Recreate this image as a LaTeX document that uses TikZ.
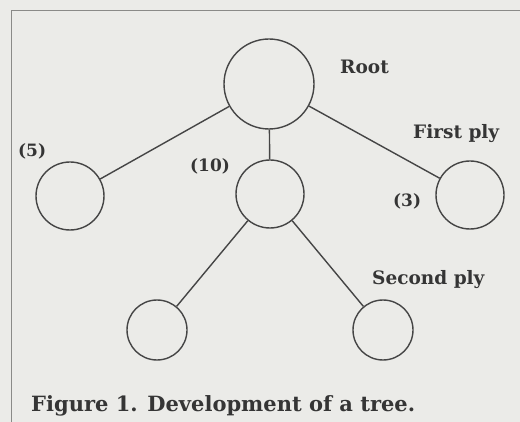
\documentclass[tikz,border=0pt]{standalone}
\usepackage{fontspec}
\setmainfont{DejaVu Serif}
\definecolor{bg}{HTML}{EBEBE8}
\definecolor{ink}{HTML}{454545}
\definecolor{txt}{HTML}{353535}
\definecolor{framec}{HTML}{8A8A88}
\begin{document}
\begin{tikzpicture}[x=1pt,y=-1pt,
  nd/.style={circle,draw=ink,line width=1.4pt,inner sep=0pt},
  big/.style={nd,minimum size=90pt},
  mid/.style={nd,minimum size=68pt},
  small/.style={nd,minimum size=60pt},
  edge/.style={draw=ink,line width=1.4pt},
  lbl/.style={text=txt,font=\fontsize{18.5}{20}\selectfont\bfseries,inner sep=0pt,anchor=base west},
  num/.style={text=txt,font=\fontsize{17}{19}\selectfont\bfseries,inner sep=0pt,anchor=base west},
  captxt/.style={text=txt,font=\fontsize{21}{23}\selectfont\bfseries,inner sep=0pt,anchor=base west}]
\fill[bg] (0,0) rectangle (520,422);
\useasboundingbox (0,0) rectangle (520,422);
\draw[framec,line width=1pt] (11,422) -- (11,11) -- (520,11);
\node[big] (root) at (269,84) {};
\node[mid] (l) at (70,196) {};
\node[mid] (m) at (270,194) {};
\node[mid] (r) at (470,195) {};
\node[small] (bl) at (157,330) {};
\node[small] (br) at (383,330) {};
\draw[edge] (root) -- (l);
\draw[edge] (root) -- (m);
\draw[edge] (root) -- (r);
\draw[edge] (m) -- (bl);
\draw[edge] (m) -- (br);
\node[lbl] (troot) at (340,74) {Root};
\node[lbl] (tfirst) at (413,139) {First ply};
\node[num] (t5) at (18,157) {(5)};
\node[num] (t10) at (190,172) {(10)};
\node[num] (t3) at (393,207) {(3)};
\node[lbl] (tsecond) at (372,285) {Second ply};
\node[captxt] (caption) at (31,411) {Figure 1. Development of a tree.};
\end{tikzpicture}
\end{document}
